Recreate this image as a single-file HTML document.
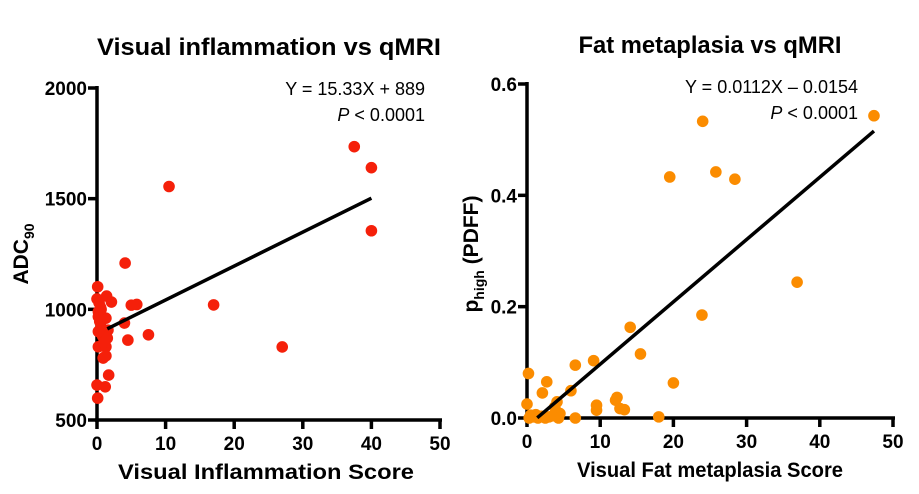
<!DOCTYPE html>
<html><head><meta charset="utf-8"><style>
body{margin:0;background:#fff;}
svg{display:block;font-family:"Liberation Sans",sans-serif;}
</style></head><body>
<svg id="c" width="919" height="494"></svg>
<script>
const leftX=[37.5,40,40,10.5,17,27,4.1,5,5.8,4,4.5,7.5,0.1,0,1.4,2.1,0.2,0.2,0.4,1.3,1.6,1.1,0.2,1.3,0.9,1.3,1.7,0,1.2,0.1,0.6,0.8,1.5,0.6,0.3,0.5,1.0,0.2];
const leftY=[1735,1640,1355,1555,1020,830,1209,1019,1022,938,861,885,1102,1047,1060,1033,989,967,945,960,906,861,831,831,780,790,703,658,650,599,1000,880,870,920,1030,1010,850,900];
const rightX=[47.4,24,25.8,28.4,19.5,36.9,23.9,14.1,15.5,20,18,0.2,0,2.7,2.1,6.6,9.1,6,4.1,9.5,9.5,12.1,12.3,12.7,13.3,6.6,0.5,1,1.5,2,2.5,3,3.5,4,4.5,0.3,1.2,3.8,4.3];
const rightY=[0.543,0.533,0.442,0.429,0.433,0.244,0.185,0.163,0.115,0.063,0.002,0.080,0.025,0.065,0.045,0.095,0.103,0.049,0.029,0.023,0.014,0.032,0.037,0.017,0.015,0.0,0.005,0.002,0.0,0.003,0.0,0.002,0.004,0.012,0.008,0.0,0.006,0.02,0.0];
const leftXTicks=[0,10,20,30,40,50], leftYTicks=[500,1000,1500,2000];
const rightXTicks=[0,10,20,30,40,50], rightYTicks=[0.0,0.2,0.4,0.6];
const leftFit=[15.33,889], rightFit=[0.0112,-0.0154];
const NS="http://www.w3.org/2000/svg", svg=document.getElementById('c');
function el(t,a,p){const e=document.createElementNS(NS,t);for(const k in a)e.setAttribute(k,a[k]);(p||svg).appendChild(e);return e;}
function panel(o){
  const g=el('g',{});
  
  
  const sx=v=>o.x0+(v-o.xmin)/(o.xmax-o.xmin)*(o.x1-o.x0);
  const sy=v=>o.y0-(v-o.ymin)/(o.ymax-o.ymin)*(o.y0-o.y1);
  const ya=el('line',{x1:o.x0,y1:o.y0+2,x2:o.x0,y2:o.y1-2,stroke:'#000','stroke-width':3.5},g);
  
  const xa=el('line',{x1:o.x0-2,y1:o.y0,x2:o.x1+2,y2:o.y0,stroke:'#000','stroke-width':3.5},g);
  
  o.xt.forEach(v=>{const x=sx(v);el('line',{x1:x,y1:o.y0,x2:x,y2:o.y0+9,stroke:'#000','stroke-width':3.5},g);
    const t=el('text',{x:x,y:o.y0+30,'text-anchor':'middle','font-size':19,'font-weight':'bold'},g);t.textContent=v;
    });
  o.yt.forEach(v=>{const y=sy(v);el('line',{x1:o.x0-9,y1:y,x2:o.x0,y2:y,stroke:'#000','stroke-width':3.5},g);
    const t=el('text',{x:o.x0-10,y:y+7,'text-anchor':'end','font-size':19,'font-weight':'bold'},g);t.textContent=o.fmt(v);
    });
  o.xs.forEach((v,i)=>{const c=el('circle',{cx:sx(v),cy:sy(o.ys[i]),r:5.8,fill:o.color},g);
    });
  const f=o.fit, xa0=o.fitStart, xa1=o.fitEnd;
  const l=el('line',{x1:sx(xa0),y1:sy(f[0]*xa0+f[1]),x2:sx(xa1),y2:sy(f[0]*xa1+f[1]),stroke:'#000','stroke-width':3.5},g);
  
  return g;
}
panel({name:'left-panel',x0:97,x1:440,y0:420,y1:88,xmin:0,xmax:50,ymin:500,ymax:2000,xt:leftXTicks,yt:leftYTicks,fmt:v=>v,xs:leftX,ys:leftY,color:'#f5200a',fit:leftFit,fitStart:1.5,fitEnd:40});
panel({name:'right-panel',x0:527,x1:893,y0:418,y1:84,xmin:0,xmax:50,ymin:0,ymax:0.6,xt:rightXTicks,yt:rightYTicks,fmt:v=>v.toFixed(1),xs:rightX,ys:rightY,color:'#fb8c00',fit:rightFit,fitStart:1.4,fitEnd:47.4});
</script>
<svg width="919" height="494" style="position:absolute;left:0;top:0">
<text x="269" y="55" text-anchor="middle" font-size="24" font-weight="bold" textLength="344" lengthAdjust="spacingAndGlyphs">Visual inflammation vs qMRI</text>
<text x="710" y="53" text-anchor="middle" font-size="24" font-weight="bold" textLength="263" lengthAdjust="spacingAndGlyphs">Fat metaplasia vs qMRI</text>
<text x="425" y="95" text-anchor="end" font-size="18">Y = 15.33X + 889</text>
<text x="425" y="121" text-anchor="end" font-size="18"><tspan font-style="italic">P</tspan> &lt; 0.0001</text>
<text x="858" y="93" text-anchor="end" font-size="18">Y = 0.0112X – 0.0154</text>
<text x="858" y="119" text-anchor="end" font-size="18"><tspan font-style="italic">P</tspan> &lt; 0.0001</text>
<text x="266" y="479" text-anchor="middle" font-size="21" font-weight="bold" textLength="296" lengthAdjust="spacingAndGlyphs">Visual Inflammation Score</text>
<text x="710" y="477" text-anchor="middle" font-size="21" font-weight="bold" textLength="266" lengthAdjust="spacingAndGlyphs">Visual Fat metaplasia Score</text>
<text transform="translate(28,254) rotate(-90)" text-anchor="middle" font-size="21" font-weight="bold">ADC<tspan font-size="14" dy="6">90</tspan></text>
<text transform="translate(478,254) rotate(-90)" text-anchor="middle" font-size="21" font-weight="bold">p<tspan font-size="14" dy="6">high</tspan><tspan dy="-6"> (PDFF)</tspan></text>
</svg>
</body></html>
